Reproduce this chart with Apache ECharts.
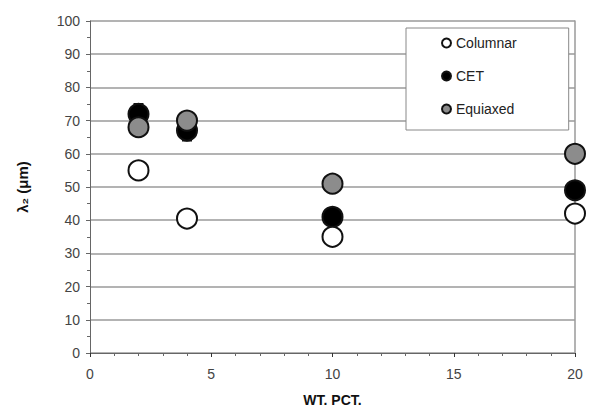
<!DOCTYPE html>
<html>
<head>
<meta charset="utf-8">
<script src="https://cdn.jsdelivr.net/npm/echarts@6/dist/echarts.min.js"></script>
<style>
  html, body { margin: 0; padding: 0; background: #fff; }
  #chart { width: 594px; height: 419px; }
</style>
</head>
<body>
<div id="chart"></div>
<script>
(function() {
  // --- data ---
  var wtPct = [2, 4, 10, 20];
  var columnar = [55, 40.5, 35, 42];
  var cet = [72, 67, 41, 49];
  var cetErr = [3, 3, 0, 0];
  var equiaxed = [68, 70, 51, 60];
  var xTicks = [0, 5, 10, 15, 20];
  var yTicks = [0, 10, 20, 30, 40, 50, 60, 70, 80, 90, 100];

  var ink = '#111';
  var gridGray = '#9a9a9a';
  var labelGray = '#444';
  var font = 'Liberation Sans, Arial, sans-serif';

  function pairs(xs, ys) {
    return xs.map(function(x, i) { return [x, ys[i]]; });
  }

  var errData = wtPct.map(function(x, i) {
    return [x, cet[i] - cetErr[i], cet[i] + cetErr[i]];
  }).filter(function(d) { return d[2] > d[1]; });

  var chart = echarts.init(document.getElementById('chart'), null, { renderer: 'svg' });
  chart.setOption({
    animation: false,
    textStyle: { fontFamily: font },
    grid: { left: 90, right: 19, top: 21, bottom: 66 },
    legend: {
      orient: 'vertical',
      left: 406,
      top: 28,
      padding: [8, 52, 14, 35],
      itemGap: 19,
      itemWidth: 9,
      itemHeight: 9,
      borderColor: '#888',
      borderWidth: 1,
      backgroundColor: '#fff',
      textStyle: { fontFamily: font, fontSize: 14, color: '#222' },
      data: [
        { name: 'Columnar', icon: 'circle' },
        { name: 'CET', icon: 'circle' },
        { name: 'Equiaxed', icon: 'circle' }
      ]
    },
    xAxis: {
      type: 'value',
      min: xTicks[0],
      max: xTicks[xTicks.length - 1],
      interval: 5,
      name: 'WT. PCT.',
      nameLocation: 'middle',
      nameGap: 40,
      nameTextStyle: { fontFamily: font, fontSize: 14, fontWeight: 'bold', color: ink },
      axisLine: { onZero: false, lineStyle: { color: '#666', width: 1 } },
      axisTick: { length: 4, lineStyle: { color: '#333' } },
      minorTick: { show: true, splitNumber: 5, length: 3, lineStyle: { color: '#666' } },
      axisLabel: { fontSize: 14, color: labelGray, margin: 14 },
      splitLine: { show: false }
    },
    yAxis: [{
      type: 'value',
      min: yTicks[0],
      max: yTicks[yTicks.length - 1],
      interval: 10,
      name: 'λ\u2082 (μm)',
      nameLocation: 'middle',
      nameGap: 60,
      nameTextStyle: { fontFamily: font, fontSize: 15, fontWeight: 'bold', color: ink },
      axisLine: { show: true, lineStyle: { color: '#666', width: 1 } },
      axisTick: { show: true, length: 4, lineStyle: { color: '#666' } },
      minorTick: { show: true, splitNumber: 2, length: 3, lineStyle: { color: '#666' } },
      axisLabel: { fontSize: 14, color: labelGray, margin: 10 },
      splitLine: { show: true, lineStyle: { color: gridGray, width: 1.5 } }
    }, {
      type: 'value',
      position: 'right',
      min: yTicks[0],
      max: yTicks[yTicks.length - 1],
      interval: 10,
      axisLine: { show: true, lineStyle: { color: gridGray, width: 1.5 } },
      axisTick: { show: false },
      axisLabel: { show: false },
      splitLine: { show: false }
    }],
    series: [
      {
        name: 'CET error',
        type: 'custom',
        z: 1,
        renderItem: function(params, api) {
          var x = api.value(0);
          var lo = api.coord([x, api.value(1)]);
          var hi = api.coord([x, api.value(2)]);
          var w = 5;
          var st = { stroke: ink, lineWidth: 2 };
          return {
            type: 'group',
            children: [
              { type: 'line', shape: { x1: lo[0], y1: lo[1], x2: hi[0], y2: hi[1] }, style: st },
              { type: 'line', shape: { x1: lo[0] - w, y1: lo[1], x2: lo[0] + w, y2: lo[1] }, style: st },
              { type: 'line', shape: { x1: hi[0] - w, y1: hi[1], x2: hi[0] + w, y2: hi[1] }, style: st }
            ]
          };
        },
        encode: { x: 0, y: [1, 2] },
        data: errData
      },
      {
        name: 'Columnar',
        type: 'scatter',
        symbolSize: 20,
        z: 3,
        itemStyle: { color: '#fff', borderColor: ink, borderWidth: 2, opacity: 1 },
        data: pairs(wtPct, columnar)
      },
      {
        name: 'CET',
        type: 'scatter',
        symbolSize: 20,
        z: 2,
        itemStyle: { color: '#000', borderColor: ink, borderWidth: 2, opacity: 1 },
        data: pairs(wtPct, cet)
      },
      {
        name: 'Equiaxed',
        type: 'scatter',
        symbolSize: 20,
        z: 4,
        itemStyle: { color: '#8c8c8c', borderColor: ink, borderWidth: 2, opacity: 1 },
        data: pairs(wtPct, equiaxed)
      }
    ]
  });

  window.addEventListener('resize', function() {
    chart.resize();
  });
})();
</script>
</body>
</html>
